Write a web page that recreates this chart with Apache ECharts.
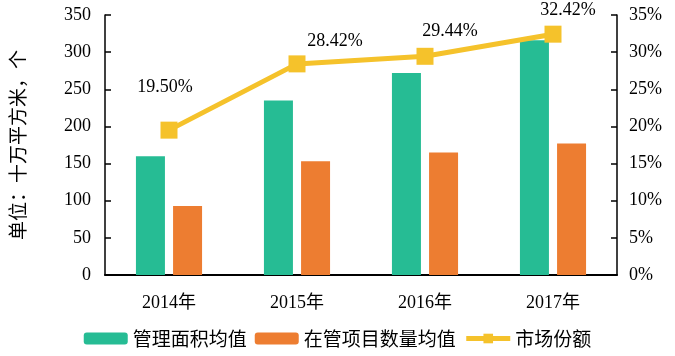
<!DOCTYPE html>
<html><head><meta charset="utf-8">
<script src="https://cdn.jsdelivr.net/npm/echarts@6/dist/echarts.min.js"></script>
<style>html,body{margin:0;padding:0;background:#fff}#c{width:675px;height:356px}</style>
</head><body><div id="c"></div>
<script>
const categories = ['2014年', '2015年', '2016年', '2017年'];
const areaAvg = [160, 235, 272, 316];
const projectAvg = [93, 153, 165, 177];
const marketShare = [19.50, 28.42, 29.44, 32.42];
const leftTicks = [0, 350, 50];
const rightTicks = [0, 35, 5];

const serif = '"Liberation Serif", "Noto Sans CJK SC", serif';
const cjk = '"Noto Sans CJK SC", sans-serif';
const labelShift = [[-4, -20], [38, 0], [25, -3], [15, -1]];

const chart = echarts.init(document.getElementById('c'));
chart.setOption({
  animation: false,
  grid: { left: 100, right: 58, top: 15, bottom: 81 },
  legend: {
    bottom: 3, left: 'center',
    itemWidth: 44, itemHeight: 12, itemGap: 8,
    textStyle: { fontFamily: cjk, fontSize: 19, color: '#000' },
    data: ['管理面积均值', '在管项目数量均值',
      { name: '市场份额', lineStyle: { width: 5 }, itemStyle: { color: '#F5C22B' } }]
  },
  xAxis: {
    type: 'category', data: categories,
    axisLine: { lineStyle: { color: '#000', width: 2 } },
    axisTick: { inside: true, length: 6, lineStyle: { color: '#000', width: 2 } },
    axisLabel: { fontFamily: serif, fontSize: 18, color: '#000', margin: 19 }
  },
  yAxis: [{
    type: 'value', min: leftTicks[0], max: leftTicks[1], interval: leftTicks[2],
    name: '单位：十万平方米，个', nameLocation: 'middle', nameRotate: 90, nameGap: 78,
    nameTextStyle: { fontFamily: cjk, fontSize: 19, color: '#000' },
    axisLine: { show: true, lineStyle: { color: '#000', width: 1.5 } },
    axisTick: { show: true, inside: true, length: 6, lineStyle: { color: '#000', width: 1.5 } },
    axisLabel: { fontFamily: serif, fontSize: 18, color: '#000', margin: 14 },
    splitLine: { show: false }
  }, {
    type: 'value', min: rightTicks[0], max: rightTicks[1], interval: rightTicks[2],
    axisLine: { show: true, lineStyle: { color: '#000', width: 1.5 } },
    axisTick: { show: true, inside: true, length: 6, lineStyle: { color: '#000', width: 1.5 } },
    axisLabel: { fontFamily: serif, fontSize: 18, color: '#000', margin: 12, formatter: '{value}%' },
    splitLine: { show: false }
  }],
  series: [{
    name: '管理面积均值', type: 'bar', data: areaAvg, barWidth: 29, barGap: '28%',
    itemStyle: { color: '#26BC94' }
  }, {
    name: '在管项目数量均值', type: 'bar', data: projectAvg, barWidth: 29, barGap: '28%',
    itemStyle: { color: '#ED7D31' }
  }, {
    name: '市场份额', type: 'line', yAxisIndex: 1,
    data: marketShare.map((v, i) => ({
      value: v,
      label: { offset: labelShift[i] }
    })),
    symbol: 'rect', symbolSize: 17,
    lineStyle: { color: '#F5C22B', width: 5 },
    itemStyle: { color: '#F5C22B' },
    label: {
      show: true, position: 'top', fontFamily: serif, fontSize: 18, color: '#000',
      formatter: p => p.value.toFixed(2) + '%'
    }
  }]
});
</script></body></html>
